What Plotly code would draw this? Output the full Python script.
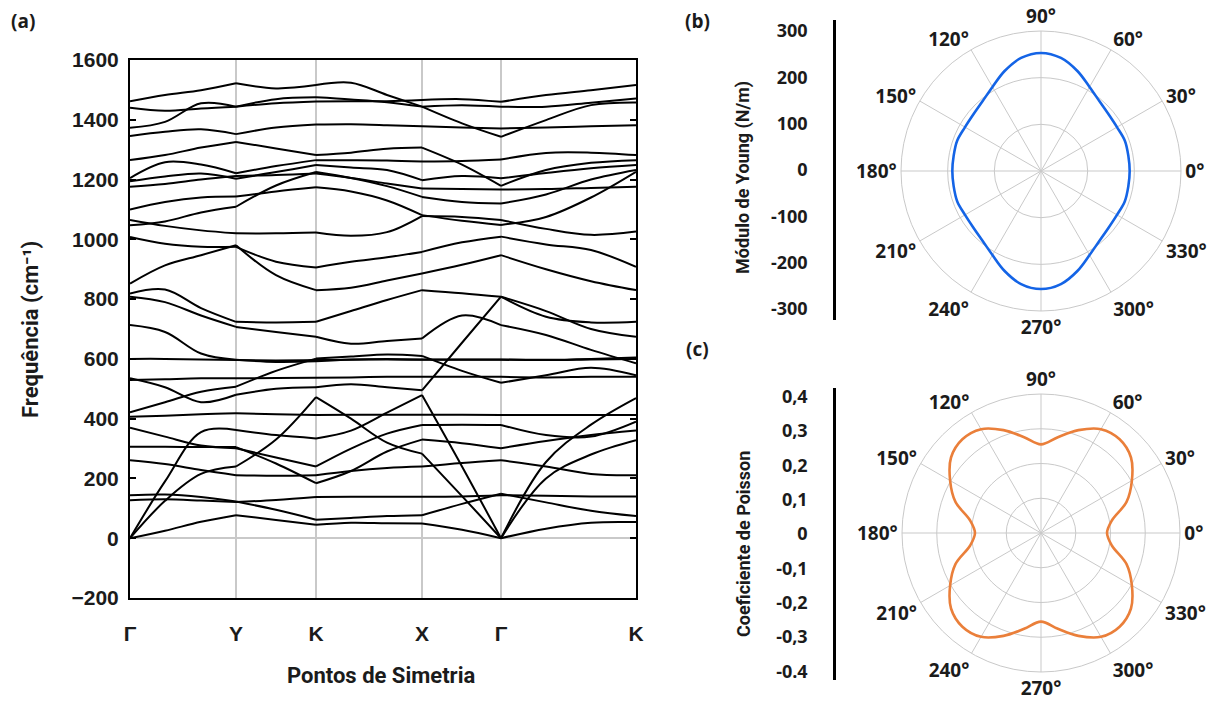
import plotly.graph_objects as go

W, H = 1218, 706


def px(x):
    return x / W


def py(y):
    return 1 - y / H


# ---------------- (a) phonon dispersion ----------------
k_path = [0, 0.35, 0.71, 1.06, 1.46, 1.86, 2.21, 2.57, 2.92, 3.32, 3.71, 4.16, 4.61, 5.06]
sym_k = [0, 1.06, 1.86, 2.92, 3.71, 5.06]
sym_labels = ["Γ", "Y", "K", "X", "Γ", "K"]
segment_idx = [0, 3, 5, 8, 10, 13]  # indices of high-symmetry points in k_path

# frequencies (cm^-1) at each k_path sample
b01 = [1462, 1483, 1499, 1522, 1505, 1516, 1524, 1483, 1444, 1388, 1343, 1399, 1449, 1458]
b02 = [1440, 1430, 1438, 1444, 1455, 1461, 1462, 1462, 1466, 1469, 1460, 1483, 1499, 1516]
b03 = [1373, 1393, 1455, 1444, 1469, 1475, 1468, 1459, 1444, 1449, 1444, 1444, 1457, 1471]
b04 = [1346, 1360, 1368, 1352, 1374, 1384, 1385, 1382, 1378, 1374, 1371, 1374, 1378, 1382]
b05 = [1265, 1282, 1307, 1326, 1304, 1282, 1290, 1303, 1307, 1250, 1179, 1232, 1256, 1265]
b06 = [1205, 1258, 1250, 1221, 1245, 1265, 1265, 1264, 1260, 1262, 1267, 1289, 1290, 1282]
b07 = [1194, 1210, 1220, 1203, 1225, 1249, 1240, 1232, 1198, 1212, 1204, 1222, 1238, 1249]
b08 = [1176, 1185, 1200, 1212, 1215, 1220, 1205, 1187, 1170, 1168, 1167, 1168, 1172, 1176]
b09 = [1047, 1060, 1090, 1109, 1180, 1225, 1205, 1178, 1142, 1125, 1120, 1150, 1200, 1232]
b10 = [1100, 1125, 1140, 1143, 1160, 1174, 1160, 1130, 1081, 1062, 1048, 1075, 1140, 1226]
b11 = [1065, 1045, 1030, 1020, 1020, 1023, 1012, 1024, 1078, 1075, 1065, 1035, 1015, 1026]
b12 = [1008, 985, 975, 975, 925, 906, 925, 940, 958, 990, 1009, 983, 964, 908]
b13 = [852, 913, 947, 980, 880, 830, 838, 862, 886, 915, 947, 900, 860, 830]
b14 = [819, 832, 770, 724, 722, 724, 760, 797, 830, 820, 808, 741, 722, 724]
b15 = [808, 790, 745, 707, 690, 674, 651, 660, 668, 745, 713, 680, 630, 585]
b16 = [713, 690, 618, 597, 590, 592, 598, 600, 598, 598, 598, 597, 600, 605]
b17 = [600, 600, 598, 596, 595, 596, 597, 598, 597, 597, 597, 596, 598, 600]
b18 = [535, 505, 455, 480, 500, 505, 515, 505, 495, 654, 808, 760, 700, 674]
b19 = [529, 532, 535, 535, 536, 537, 538, 540, 540, 540, 540, 538, 540, 540]
b20 = [421, 455, 490, 507, 560, 601, 608, 615, 610, 560, 520, 545, 570, 545]
b21 = [406, 410, 415, 418, 415, 412, 413, 413, 413, 413, 412, 412, 412, 412]
b22 = [370, 340, 310, 301, 270, 240, 300, 350, 379, 380, 379, 345, 340, 390]
b23 = [306, 306, 305, 305, 250, 184, 225, 290, 330, 318, 301, 325, 345, 360]
b24 = [261, 248, 228, 211, 209, 211, 225, 235, 240, 252, 261, 240, 215, 211]
b25 = [144, 146, 138, 123, 95, 62, 68, 74, 77, 115, 149, 120, 92, 74]
b26 = [127, 130, 126, 121, 128, 138, 139, 139, 139, 140, 144, 142, 140, 140]
b27 = [0, 190, 355, 362, 345, 334, 360, 420, 479, 240, 0, 255, 380, 469]
b28 = [0, 125, 215, 240, 330, 472, 400, 320, 283, 141, 0, 200, 280, 328]
b29 = [0, 25, 55, 77, 61, 45, 52, 50, 49, 28, 0, 32, 52, 54]

bands = [b01, b02, b03, b04, b05, b06, b07, b08, b09, b10, b11, b12, b13, b14, b15,
         b16, b17, b18, b19, b20, b21, b22, b23, b24, b25, b26, b27, b28, b29]

freq_ticks = [-200, 0, 200, 400, 600, 800, 1000, 1200, 1400, 1600]

# ---------------- (b) Young's modulus ----------------
young_theta = list(range(0, 361, 10))
young_vals = [190, 190, 191, 188, 189, 195, 208, 228, 246, 253,
              246, 228, 208, 195, 189, 188, 191, 190, 190,
              190, 191, 188, 189, 195, 208, 228, 246, 253,
              246, 228, 208, 195, 189, 188, 191, 190, 190]
young_ticks = [300, 200, 100, 0, -100, -200, -300]
young_ticktext = ["300", "200", "100", "0", "-100", "-200", "-300"]

# ---------------- (c) Poisson ratio ----------------
poisson_theta = list(range(0, 361, 10))
poisson_vals = [0.190, 0.207, 0.262, 0.302, 0.338, 0.352, 0.345, 0.315, 0.280, 0.255,
                0.280, 0.315, 0.345, 0.352, 0.338, 0.302, 0.262, 0.207, 0.190,
                0.207, 0.262, 0.302, 0.338, 0.352, 0.345, 0.315, 0.280, 0.255,
                0.280, 0.315, 0.345, 0.352, 0.338, 0.302, 0.262, 0.207, 0.190]
poisson_ticks = [0.4, 0.3, 0.2, 0.1, 0, -0.1, -0.2, -0.3, -0.4]
poisson_ticktext = ["0,4", "0,3", "0,2", "0,1", "0", "-0,1", "-0,2", "-0,3", "-0.4"]

angle_ticks = list(range(0, 360, 30))
angle_labels = [f"{a}°" for a in angle_ticks]

TXT = "#1b1b1b"
GRID = "#c9c9c9"
fig = go.Figure()

# each band is drawn as spline pieces between high-symmetry points
for band in bands:
    xs, ys = [], []
    for s in range(len(segment_idx) - 1):
        i0, i1 = segment_idx[s], segment_idx[s + 1]
        xs += k_path[i0:i1 + 1] + [None]
        ys += band[i0:i1 + 1] + [None]
    fig.add_trace(go.Scatter(x=xs, y=ys, mode="lines",
                             line=dict(color="black", width=2, shape="spline", smoothing=1.0),
                             hoverinfo="skip", showlegend=False, xaxis="x", yaxis="y"))

# placeholder traces so the stand-alone value axes are rendered
fig.add_trace(go.Scatter(x=[], y=[], xaxis="x2", yaxis="y2", showlegend=False))
fig.add_trace(go.Scatter(x=[], y=[], xaxis="x3", yaxis="y3", showlegend=False))

fig.add_trace(go.Scatterpolar(r=young_vals, theta=young_theta, mode="lines",
                              line=dict(color="#1464e6", width=2.6, shape="spline"),
                              subplot="polar", showlegend=False, hoverinfo="skip"))
fig.add_trace(go.Scatterpolar(r=poisson_vals, theta=poisson_theta, mode="lines",
                              line=dict(color="#ea7f3a", width=2.6, shape="spline"),
                              subplot="polar2", showlegend=False, hoverinfo="skip"))

tickfont_a = dict(family="Liberation Sans", size=21, color=TXT, weight="bold")
tickfont_pol = dict(family="Open Sans", size=19, color=TXT, weight="bold")
tickfont_side = dict(family="Open Sans", size=18, color=TXT, weight="bold")


def polar_layout(dom_x, dom_y, rmax, rticks):
    return dict(
        domain=dict(x=dom_x, y=dom_y),
        bgcolor="white",
        radialaxis=dict(range=[0, rmax], tickvals=rticks, showticklabels=False, ticks="",
                        showline=False, gridcolor=GRID, gridwidth=1),
        angularaxis=dict(tickvals=angle_ticks, ticktext=angle_labels, direction="counterclockwise",
                         rotation=0, gridcolor=GRID, gridwidth=1, linecolor=GRID, linewidth=1,
                         showline=True, ticks="", tickfont=tickfont_pol),
    )


fig.update_layout(
    template="none",
    width=W, height=H,
    margin=dict(l=0, r=0, t=0, b=0, pad=0, autoexpand=False),
    paper_bgcolor="white", plot_bgcolor="white",
    xaxis=dict(domain=[px(130), px(636)], range=[0, 5.06], tickvals=sym_k, ticktext=sym_labels,
               showgrid=True, gridcolor=GRID, gridwidth=1.5, zeroline=False,
               showline=True, linecolor="black", linewidth=2, mirror=True,
               ticks="", tickfont=tickfont_a, ticklabelstandoff=16, automargin=False),
    yaxis=dict(domain=[py(598), py(60)], range=[-200, 1600], tickvals=freq_ticks,
               showgrid=False, zeroline=True, zerolinecolor=GRID, zerolinewidth=1.5,
               showline=True, linecolor="black", linewidth=2, mirror="ticks",
               ticks="inside", ticklen=6, tickcolor="black", tickwidth=1.5,
               tickfont=tickfont_a, ticklabelstandoff=5, automargin=False),
    xaxis2=dict(domain=[px(836), px(838)], visible=False, anchor="y2"),
    yaxis2=dict(domain=[py(320), py(20)], anchor="x2", range=[-323.7, 323.7],
                tickvals=young_ticks, ticktext=young_ticktext, showgrid=False, zeroline=False,
                showline=True, linecolor="black", linewidth=2.5, ticks="",
                tickfont=tickfont_side, ticklabelstandoff=22, automargin=False),
    xaxis3=dict(domain=[px(836), px(838)], visible=False, anchor="y3"),
    yaxis3=dict(domain=[py(680), py(388)], anchor="x3", range=[-0.4247, 0.4247],
                tickvals=poisson_ticks, ticktext=poisson_ticktext, showgrid=False, zeroline=False,
                showline=True, linecolor="black", linewidth=2.5, ticks="",
                tickfont=tickfont_side, ticklabelstandoff=22, automargin=False),
    polar=polar_layout([px(901), px(1181)], [py(311), py(31)], 300, [100, 200, 300]),
    polar2=polar_layout([px(902), px(1180)], [py(672), py(394)], 0.4, [0.1, 0.2, 0.3, 0.4]),
)

title_font = dict(family="Roboto", size=22, color=TXT, weight="bold")
side_font = dict(family="Roboto", size=18, color=TXT, weight="bold")
panel_font = dict(family="Open Sans", size=19, color=TXT, weight="bold")

annotations = [
    dict(x=px(23), y=py(21), text="(a)", font=panel_font),
    dict(x=px(697), y=py(21), text="(b)", font=panel_font),
    dict(x=px(697), y=py(349), text="(c)", font=panel_font),
    dict(x=px(381), y=py(675), text="Pontos de Simetria", font=title_font),
    dict(x=px(31), y=py(330), text="Frequência (cm⁻¹)", font=title_font, textangle=-90),
    dict(x=px(743), y=py(178), text="Módulo de Young (N/m)", font=side_font, textangle=-90),
    dict(x=px(743), y=py(544), text="Coeficiente de Poisson", font=side_font, textangle=-90),
]
for a in annotations:
    a.update(xref="paper", yref="paper", showarrow=False, xanchor="center", yanchor="middle")
fig.update_layout(annotations=annotations)

fig.write_html("out.html")
